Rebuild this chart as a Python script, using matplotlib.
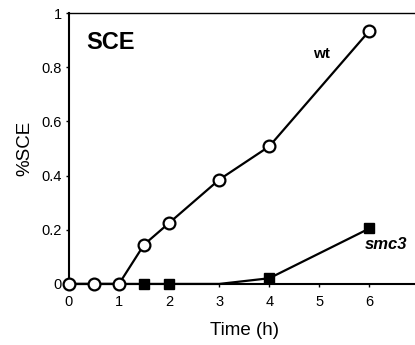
import matplotlib
matplotlib.use("Agg")
import matplotlib.pyplot as plt

wt_time = [0, 0.5, 1, 1.5, 2, 3, 4, 6]
wt_sce = [0, 0, 0, 0.145, 0.225, 0.385, 0.508, 0.935]
smc3_time = [0, 0.5, 1, 1.5, 2, 3, 4, 6]
smc3_sce = [0, 0, 0, 0, 0, 0, 0.021, 0.205]
smc3_marked = [3, 4, 6, 7]  # no square drawn at 3 h

plt.rcParams["font.family"] = ["Liberation Sans", "DejaVu Sans"]

fig = plt.figure(figsize=(4.15, 3.45), dpi=100)
ax = fig.add_axes([0.166, 0.177, 0.845, 0.785])

ax.plot(smc3_time, smc3_sce, "k-", lw=1.6, marker="s", ms=7, mfc="black",
        markevery=smc3_marked, clip_on=False, zorder=3)
ax.plot(wt_time, wt_sce, "k-", lw=1.6, marker="o", ms=8.5, mfc="white",
        mew=1.6, clip_on=False, zorder=4)

ax.set_xlim(0, 7)
ax.set_ylim(0, 1)
ax.set_xticks([0, 1, 2, 3, 4, 5, 6])
ax.set_yticks([0, 0.2, 0.4, 0.6, 0.8, 1])
ax.set_yticklabels(["0", "0.2", "0.4", "0.6", "0.8", "1"])
ax.tick_params(direction="out", length=2, width=1, labelsize=10.5)
ax.tick_params(axis="x", pad=6)
ax.tick_params(axis="y", pad=3)

ax.spines["right"].set_visible(False)
for s in ("left", "bottom"):
    ax.spines[s].set_linewidth(1.5)
ax.spines["top"].set_linewidth(1.0)

ax.set_xlabel("Time (h)", fontsize=13.5, labelpad=9)
ax.set_ylabel("%SCE", fontsize=13.5, labelpad=6)

ax.text(0.34, 0.89, "SCE", fontsize=17, fontweight="bold", va="center")
ax.text(4.88, 0.85, "wt", fontsize=11, fontweight="bold", va="center")
ax.text(5.9, 0.145, "smc3", fontsize=12, fontweight="bold", style="italic",
        va="center")

fig.savefig("out.png", dpi=100)
